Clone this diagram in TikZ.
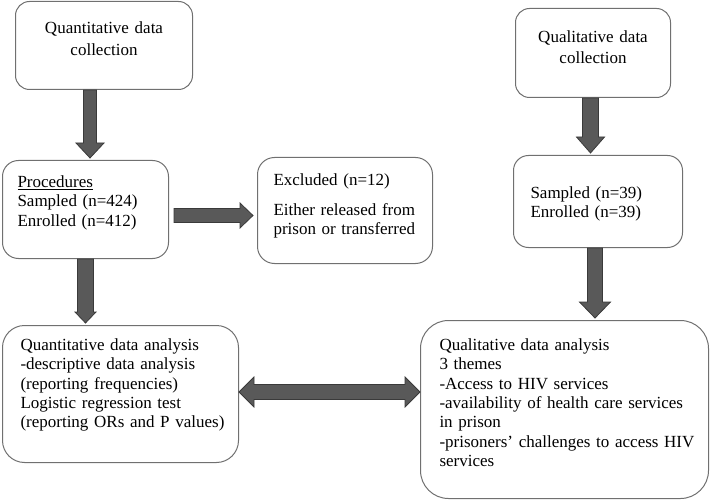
\documentclass[tikz,border=0pt]{standalone}
\usepackage{fontspec}
\setmainfont{Liberation Serif}
\usetikzlibrary{calc}

\definecolor{boxgray}{HTML}{707070}
\definecolor{arrowfill}{HTML}{595959}
\definecolor{arrowdraw}{HTML}{3A3A3A}

% block arrow: from, to, half shaft, half head, head length
\newcommand{\fatarrow}[5]{%
  \coordinate (fa-h) at ($(#2)!#5!(#1)$);
  \draw[fatline] ($(#1)!#3!90:(#2)$) -- ($(fa-h)!#3!90:(#2)$) -- ($(fa-h)!#4!90:(#2)$) -- (#2)
    -- ($(fa-h)!#4!-90:(#2)$) -- ($(fa-h)!#3!-90:(#2)$) -- ($(#1)!#3!-90:(#2)$) -- cycle;
}
\newcommand{\fatdarrow}[5]{%
  \coordinate (fa-h1) at ($(#1)!#5!(#2)$);
  \coordinate (fa-h2) at ($(#2)!#5!(#1)$);
  \draw[fatline] (#1) -- ($(fa-h1)!#4!90:(#2)$) -- ($(fa-h1)!#3!90:(#2)$) -- ($(fa-h2)!#3!90:(#2)$)
    -- ($(fa-h2)!#4!90:(#2)$) -- (#2) -- ($(fa-h2)!#4!-90:(#2)$) -- ($(fa-h2)!#3!-90:(#2)$)
    -- ($(fa-h1)!#3!-90:(#2)$) -- ($(fa-h1)!#4!-90:(#2)$) -- cycle;
}

\begin{document}
\begin{tikzpicture}[
    x=1pt, y=-1pt,
    box/.style={draw=boxgray, line width=1pt, anchor=north west, inner ysep=0pt, align=left,
      font=\fontsize{17}{19.3}\selectfont},
    fatline/.style={draw=arrowdraw, fill=arrowfill, line width=0.8pt, line join=miter}
  ]
  \useasboundingbox (0,0) rectangle (710,500);

  % quantitative side
  \node[box, rounded corners=14pt, align=center, inner xsep=8pt, text width=161pt,
    text height=32pt, text depth=56pt, font=\fontsize{17}{22}\selectfont] (qncoll) at (15,1)
    {Quantitative data\\collection};
  \node[box, rounded corners=16pt, inner xsep=15pt, text width=136pt,
    text height=27pt, text depth=71pt] (proc) at (2,160)
    {\underline{Procedures}\\Sampled (n=424)\\Enrolled (n=412)};
  \node[box, rounded corners=17pt, inner xsep=16pt, text width=143pt,
    text height=28pt, text depth=78pt] (excl) at (257,157)
    {Excluded (n=12)\\[10.7pt]Either released from\\prison or transferred};
  \node[box, rounded corners=22pt, inner xsep=18pt, text width=200pt,
    text height=25pt, text depth=112pt] (qnan) at (2,325)
    {Quantitative data analysis\\-descriptive data analysis\\(reporting frequencies)\\Logistic regression test\\\mbox{(reporting ORs and P values)}};

  % qualitative side
  \node[box, rounded corners=14pt, align=center, inner xsep=8pt, text width=139pt,
    text height=34pt, text depth=55pt, font=\fontsize{17}{21}\selectfont] (qlcoll) at (515,8)
    {Qualitative data\\collection};
  \node[box, rounded corners=15pt, inner xsep=17pt, text width=135pt,
    text height=43pt, text depth=49pt] (smp) at (513,155)
    {Sampled (n=39)\\Enrolled (n=39)};
  \node[box, rounded corners=28pt, inner xsep=19pt, text width=250pt,
    text height=30pt, text depth=148pt] (qlan) at (420,320)
    {Qualitative data analysis\\3 themes\\-Access to HIV services\\\mbox{-availability of health care services}\\in prison\\\mbox{-prisoners' challenges to access HIV}\\services};

  % arrows
  \coordinate (a1s) at ([xshift=-14pt]qncoll.south);
  \coordinate (a1e) at ($(a1s |- proc.north)+(0,-2)$);
  \fatarrow{a1s}{a1e}{6.5pt}{14pt}{15pt}

  \coordinate (a2s) at ($(proc.east)+(5,6)$);
  \coordinate (a2e) at ($(excl.west |- a2s)+(-4,0)$);
  \fatarrow{a2s}{a2e}{7pt}{12.5pt}{13pt}

  \coordinate (a3s) at (proc.south);
  \coordinate (a3e) at ($(a3s |- qnan.north)+(0,-2)$);
  \fatarrow{a3s}{a3e}{8pt}{10.5pt}{11pt}

  \coordinate (a4s) at ([xshift=-2.5pt]qlcoll.south);
  \coordinate (a4e) at ($(a4s |- smp.north)+(0,-2)$);
  \fatarrow{a4s}{a4e}{8pt}{14pt}{16pt}

  \coordinate (a5s) at ([xshift=-3pt]smp.south);
  \coordinate (a5e) at ($(a5s |- qlan.north)+(0,-2)$);
  \fatarrow{a5s}{a5e}{7.5pt}{15.5pt}{16pt}

  \coordinate (d1) at ($(qnan.east)+(0,-2)$);
  \coordinate (d2) at (qlan.west |- d1);
  \fatdarrow{d1}{d2}{7.5pt}{15pt}{15pt}

\end{tikzpicture}
\end{document}
